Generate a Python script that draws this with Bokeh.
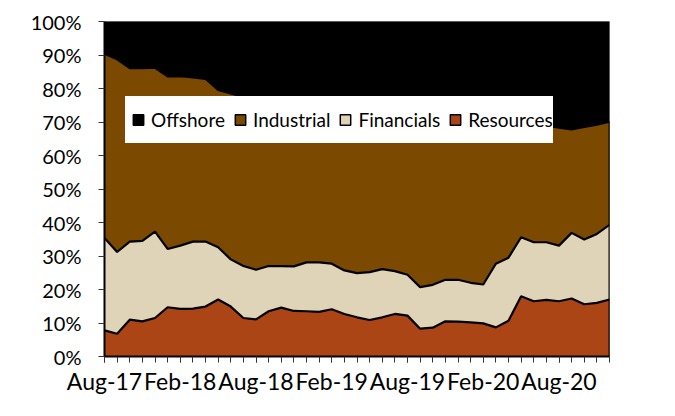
from bokeh.plotting import figure
from bokeh.models import (ColumnDataSource, FixedTicker, PrintfTickFormatter, Legend,
                          LegendItem, Range1d, CDSView, IndexFilter, BoxAnnotation)
from bokeh.transform import stack
from bokeh.embed import file_html
from bokeh.resources import INLINE

months = ["Aug-17", "Sep-17", "Oct-17", "Nov-17", "Dec-17",
          "Jan-18", "Feb-18", "Mar-18", "Apr-18", "May-18", "Jun-18", "Jul-18",
          "Aug-18", "Sep-18", "Oct-18", "Nov-18", "Dec-18",
          "Jan-19", "Feb-19", "Mar-19", "Apr-19", "May-19", "Jun-19", "Jul-19",
          "Aug-19", "Sep-19", "Oct-19", "Nov-19", "Dec-19",
          "Jan-20", "Feb-20", "Mar-20", "Apr-20", "May-20", "Jun-20", "Jul-20",
          "Aug-20", "Sep-20", "Oct-20", "Nov-20", "Dec-20"]

resources = [7.8, 6.8, 11.0, 10.5, 11.5, 14.7, 14.2, 14.3, 14.9, 17.0,
             14.9, 11.5, 11.1, 13.5, 14.6, 13.6, 13.5, 13.3, 14.1, 12.7,
             11.7, 10.9, 11.7, 12.7, 12.2, 8.3, 8.6, 10.5, 10.4, 10.2,
             9.9, 8.7, 10.7, 18.0, 16.5, 16.9, 16.5, 17.3, 15.6, 16.0, 17.0]
financials = [27.6, 24.4, 23.3, 24.0, 25.8, 17.4, 18.9, 20.0, 19.4, 15.6,
              14.1, 15.5, 14.8, 13.5, 12.4, 13.3, 14.6, 14.8, 13.6, 13.0,
              13.2, 14.3, 14.4, 12.8, 12.2, 12.4, 12.8, 12.4, 12.5, 11.8,
              11.6, 19.0, 18.8, 17.6, 17.6, 17.2, 16.6, 19.6, 19.3, 20.6, 22.3]
industrial = [55.0, 57.5, 51.8, 51.6, 48.9, 51.5, 50.6, 49.0, 48.6, 47.0,
              49.5, 50.5, 51.1, 49.5, 49.0, 48.6, 46.9, 46.4, 46.8, 48.3,
              48.6, 47.8, 46.9, 47.0, 47.6, 50.8, 50.1, 48.1, 47.6, 48.5,
              48.5, 42.3, 40.0, 33.9, 34.9, 34.9, 35.2, 30.9, 33.6, 32.6, 30.8]
offshore = [9.6, 11.3, 13.9, 13.9, 13.8, 16.4, 16.3, 16.7, 17.1, 20.4,
            21.5, 22.5, 23.0, 23.5, 24.0, 24.5, 25.0, 25.5, 25.5, 26.0,
            26.5, 27.0, 27.0, 27.5, 28.0, 28.5, 28.5, 29.0, 29.5, 29.5,
            30.0, 30.0, 30.5, 30.5, 31.0, 31.0, 31.7, 32.2, 31.5, 30.8, 29.9]

series = ["Resources", "Financials", "Industrial", "Offshore"]
colors = ["#AB4515", "#E0D4B8", "#7B4A00", "#000000"]
legend_order = ["Offshore", "Industrial", "Financials", "Resources"]
y_ticks = list(range(0, 101, 10))

x = list(range(len(months)))
source = ColumnDataSource(dict(x=x, Resources=resources, Financials=financials,
                               Industrial=industrial, Offshore=offshore))

FONT = "Lato"

p = figure(width=675, height=416, output_backend="svg", toolbar_location=None,
           x_range=Range1d(0, len(months) - 1), y_range=Range1d(0, 100),
           min_border_left=104, min_border_right=66, min_border_top=21, min_border_bottom=60)

p.varea_stack(stackers=series, x="x", color=colors, source=source)
for k in range(1, 4):
    p.line(x="x", y=stack(*series[:k]), source=source, line_color="black", line_width=2.2)

# right edge of the stacked areas
last_view = CDSView(filter=IndexFilter([len(months) - 1]))
p.segment(x0="x", x1="x", y0=0, y1=stack(*series[:3]), source=source, view=last_view,
          line_color="black", line_width=2)

p.xgrid.visible = False
p.ygrid.visible = False
p.outline_line_color = "#808080"
p.outline_line_width = 1

p.xaxis.ticker = FixedTicker(ticks=x[::6], minor_ticks=x)
p.xaxis.major_label_overrides = {i: months[i] for i in x[::6]}
p.yaxis.ticker = FixedTicker(ticks=y_ticks)
p.yaxis.formatter = PrintfTickFormatter(format="%d%%")

for ax in (p.xaxis, p.yaxis):
    ax.axis_line_color = "black"
    ax.axis_line_width = 2
    ax.major_tick_line_color = "#333333"
    ax.major_tick_line_width = 1
    ax.major_tick_in = 0
    ax.major_tick_out = 6
    ax.minor_tick_line_color = "#333333"
    ax.minor_tick_line_width = 1
    ax.minor_tick_in = 0
    ax.minor_tick_out = 6
    ax.major_label_text_font = FONT
    ax.major_label_text_color = "black"
p.yaxis.minor_tick_line_color = None
p.yaxis.major_label_text_font_size = "20px"
p.xaxis.major_label_text_font_size = "23px"
p.yaxis.major_label_standoff = 17
p.xaxis.major_label_standoff = 4

items = []
for name in legend_order:
    col = colors[series.index(name)]
    r = p.scatter(x="x", y=name, source=source, marker="square", size=0,
                  fill_color=col, line_color="black", line_width=1.5)
    items.append(LegendItem(label=name, renderers=[r]))

legend = Legend(items=items, orientation="horizontal", location=(21, 213),
                background_fill_color="white", background_fill_alpha=1.0,
                border_line_color=None, label_text_font=FONT,
                label_text_font_size="19px", label_text_color="black",
                glyph_width=26, glyph_height=47, label_standoff=0, spacing=2,
                padding=2, margin=0)
p.add_layout(legend)

# drop shadow along the right edge of the chart area
for l, r_, c in [(662, 665, "#a8a8a8"), (665, 669, "#c0c0c0"), (669, 675, "#dcdcdc")]:
    p.add_layout(BoxAnnotation(left=l, right=r_, top=6, bottom=416,
                               left_units="canvas", right_units="canvas",
                               top_units="canvas", bottom_units="canvas",
                               fill_color=c, fill_alpha=1.0, line_color=None,
                               level="overlay"))

open("out.html", "w").write(file_html(p, INLINE))
